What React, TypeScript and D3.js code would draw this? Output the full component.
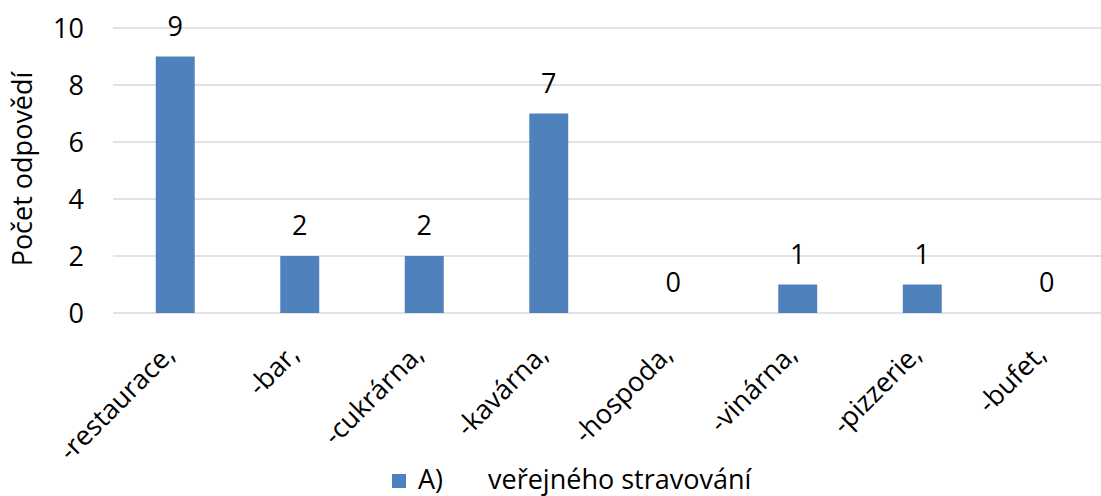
import React from 'react';
import * as d3 from 'd3';

const categories = ['-restaurace,', '-bar,', '-cukrárna,', '-kavárna,', '-hospoda,', '-vinárna,', '-pizzerie,', '-bufet,'];
const values = [9, 2, 2, 7, 0, 1, 1, 0];
const yTicks = [0, 2, 4, 6, 8, 10];
const seriesName = 'veřejného stravování';
const seriesPrefix = 'A)';

const W = 1101;
const H = 496;
const font = '"Open Sans", sans-serif';
const fs = 27;

export default function App() {
  const x = d3.scaleBand<string>().domain(categories).range([113, 1109]).padding(0);
  const y = d3.scaleLinear().domain([0, 10]).range([313, 28]);
  const barW = x.bandwidth() * 0.313;

  return (
    <svg width={W} height={H} style={{ display: 'block', position: 'absolute', left: 0, top: 0 }} fontFamily={font}>
      <rect width={W} height={H} fill="#fff" />
      {/* gridlines */}
      {yTicks.map((t) => (
        <line key={t} x1={113} x2={1109} y1={y(t)} y2={y(t)} stroke="#d9d9d9" strokeWidth={1.5} />
      ))}
      {/* y tick labels */}
      {yTicks.map((t) => (
        <text key={t} x={84} y={y(t)} dy="0.36em" textAnchor="end" fontSize={fs} fill="#000">
          {t}
        </text>
      ))}
      <text transform={`translate(32,169) rotate(-90)`} textAnchor="middle" fontSize={fs} fill="#000">
        Počet odpovědí
      </text>
      {/* bars */}
      {categories.map((c, i) => {
        const cx = (x(c) as number) + x.bandwidth() / 2;
        return (
          <g key={c}>
            {values[i] > 0 && (
              <rect x={cx - barW / 2} y={y(values[i])} width={barW} height={y(0) - y(values[i])} fill="#4f81bd" />
            )}
            <text x={cx} y={y(values[i]) - 21} textAnchor="middle" fontSize={fs} fill="#000">
              {values[i]}
            </text>
            <text
              transform={`translate(${cx + 1},${356}) rotate(-45)`}
              textAnchor="end"
              fontSize={fs}
              fill="#000"
            >
              {c}
            </text>
          </g>
        );
      })}
      {/* legend */}
      <rect x={392} y={474} width={14} height={14} fill="#4f81bd" />
      <text x={418} y={489} fontSize={fs} fill="#000">{seriesPrefix}</text>
      <text x={488} y={489} fontSize={fs} fill="#000">{seriesName}</text>
    </svg>
  );
}
